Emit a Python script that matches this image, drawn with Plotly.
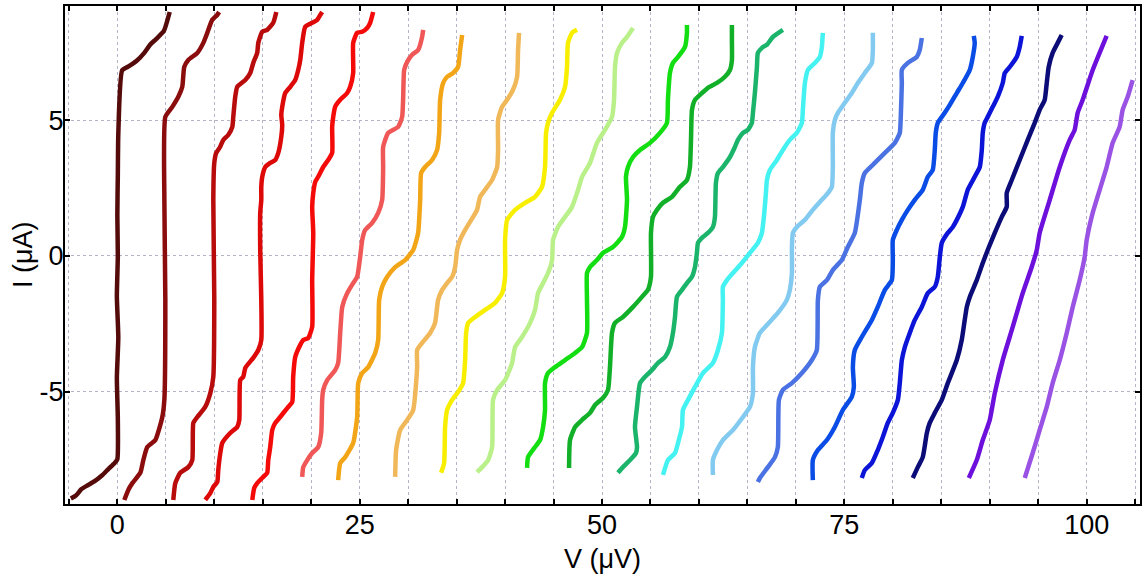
import plotly.graph_objects as go

# ---- data (V in microvolts, I in microamps) ----
V1 = [-4.8, -4.3, -3.7, -3.0, -2.3, -1.6, -0.9, -0.3, 0.0, 0.05, -0.05, 0.1, -0.05, 0.05, 0.0, 0.05, 0.1, 0.5, 1.2, 2.0, 2.8, 3.4, 4.0, 4.8, 5.4]
I1 = [-8.95, -8.85, -8.6, -8.45, -8.3, -8.1, -7.85, -7.65, -7.5, -6.0, -4.5, -3.0, -1.5, 0.0, 1.5, 3.0, 4.5, 6.85, 7.0, 7.2, 7.5, 7.8, 8.0, 8.3, 9.0]

V2 = [0.72, 1.13, 1.55, 2.37, 2.68, 3.09, 3.92, 4.64, 4.85, 4.95, 4.85, 4.95, 5.67, 6.29, 6.7, 6.9, 7.32, 8.25, 8.87, 9.28, 9.79, 10.3, 10.5]
I2 = [-9.0, -8.63, -8.38, -8.0, -7.53, -7.05, -6.79, -5.94, -5.3, -1.6, 2.07, 5.13, 5.5, 5.87, 6.24, 6.97, 7.23, 7.49, 7.86, 8.23, 8.71, 8.89, 9.0]

V3 = [5.77, 5.98, 6.49, 7.32, 7.73, 7.84, 8.25, 9.07, 9.59, 9.9, 10.0, 9.9, 10.0, 10.2, 10.6, 10.93, 11.44, 11.86, 11.96, 12.16, 12.37, 13.2, 13.71, 14.02, 14.43, 14.54, 14.95, 15.46, 16.08, 16.4]
I3 = [-9.0, -8.38, -8.0, -7.79, -7.53, -6.16, -5.94, -5.57, -5.06, -4.46, -1.62, 2.07, 3.43, 3.8, 4.02, 4.28, 4.46, 4.76, 5.13, 5.87, 6.24, 6.49, 6.75, 7.12, 7.49, 7.86, 8.27, 8.34, 8.6, 9.0]

V4 = [9.07, 9.59, 9.9, 10.31, 10.41, 10.62, 10.82, 11.65, 12.37, 12.58, 12.68, 12.99, 13.2, 14.02, 14.54, 14.85, 14.85, 14.74, 14.74, 14.85, 14.85, 14.95, 15.26, 15.77, 16.29, 16.6, 16.91, 17.01, 16.91, 17.01, 17.32, 17.84, 18.35, 18.66, 18.87, 19.07, 19.38, 20.1, 20.62, 20.93, 21.13]
I4 = [-9.0, -8.75, -8.52, -8.34, -7.9, -7.27, -6.9, -6.53, -6.31, -6.05, -4.58, -4.46, -4.13, -3.76, -3.47, -3.1, -1.62, 0.22, 1.59, 2.07, 2.55, 2.92, 3.28, 3.43, 3.54, 3.8, 4.39, 4.83, 5.2, 5.5, 6.01, 6.24, 6.49, 6.86, 7.23, 7.86, 8.45, 8.6, 8.71, 8.89, 9.0]

V5 = [13.92, 14.12, 14.43, 15.05, 15.46, 15.57, 15.77, 15.98, 16.29, 16.8, 17.53, 18.04, 18.14, 18.35, 18.87, 19.18, 19.69, 20.1, 20.1, 20.21, 20.1, 20.21, 20.41, 20.72, 21.24, 21.75, 22.16, 22.16, 22.27, 22.47, 22.99, 23.71, 24.02, 24.33, 24.33, 24.74, 25.26, 25.77, 26.08, 26.39]
I5 = [-9.0, -8.56, -8.38, -8.15, -8.0, -7.53, -7.05, -6.42, -6.16, -5.94, -5.61, -5.39, -4.46, -3.73, -3.28, -3.1, -3.03, -2.62, -0.89, 0.85, 1.81, 2.32, 2.73, 2.92, 3.28, 3.54, 3.8, 4.76, 5.13, 5.5, 5.76, 6.01, 6.24, 6.75, 7.86, 8.23, 8.27, 8.41, 8.6, 9.0]

V6 = [19.07, 19.18, 19.59, 20.1, 20.72, 21.03, 21.13, 21.24, 21.65, 22.47, 22.78, 22.99, 23.2, 23.71, 24.33, 24.74, 25.05, 25.26, 25.57, 26.29, 26.91, 27.32, 27.42, 27.42, 27.94, 28.97, 29.38, 29.48, 29.59, 29.9, 30.41, 31.03, 31.44, 31.55]
I6 = [-8.15, -7.79, -7.53, -7.27, -7.05, -6.53, -5.31, -4.94, -4.58, -4.21, -3.95, -2.84, -1.88, -1.37, -1.0, -0.77, -0.04, 0.59, 0.96, 1.22, 1.59, 2.07, 3.28, 4.02, 4.54, 4.76, 5.13, 5.76, 6.86, 7.16, 7.42, 7.6, 8.08, 8.34]

V7 = [22.78, 22.99, 23.51, 24.33, 24.74, 24.85, 25.26, 25.88, 26.6, 26.91, 27.01, 27.32, 27.84, 28.66, 29.69, 30.52, 31.03, 31.24, 31.34, 31.75, 32.47, 32.99, 33.2, 33.3, 33.61, 34.02, 34.64, 35.15, 35.36, 35.57]
I7 = [-8.27, -7.64, -7.42, -6.9, -5.94, -4.69, -4.32, -4.1, -3.58, -3.1, -1.62, -1.14, -0.77, -0.41, -0.15, 0.22, 0.85, 2.07, 3.06, 3.28, 3.54, 3.91, 4.54, 5.76, 6.38, 6.61, 6.75, 6.97, 7.6, 8.15]

V8 = [28.66, 28.76, 29.18, 29.9, 30.52, 30.93, 30.93, 31.44, 32.27, 32.78, 33.09, 33.51, 34.02, 34.54, 34.85, 35.05, 35.36, 35.88, 36.7, 37.11, 37.42, 37.94, 38.66, 39.18, 39.28, 39.28, 39.69, 40.21, 40.82, 41.24, 41.34, 41.44]
I8 = [-8.15, -7.16, -6.42, -6.05, -5.68, -4.1, -3.47, -3.21, -2.84, -2.47, -1.62, -1.25, -1.0, -0.77, -0.41, 0.22, 0.59, 0.96, 1.44, 1.7, 2.18, 2.44, 2.8, 3.28, 3.91, 5.02, 5.5, 5.76, 6.13, 6.61, 7.6, 8.23]

V9 = [33.4, 33.71, 33.81, 34.02, 34.54, 35.15, 35.67, 35.88, 35.98, 36.19, 36.91, 37.94, 38.97, 39.69, 40.0, 40.0, 40.21, 41.03, 42.06, 43.09, 43.81, 44.12, 44.23, 44.43, 44.85, 45.67, 46.19, 46.39, 46.49, 46.91, 47.42]
I9 = [-8.0, -7.64, -6.31, -5.68, -5.31, -5.02, -4.69, -3.84, -2.84, -2.47, -2.25, -1.99, -1.73, -1.37, -0.77, 0.59, 1.33, 1.7, 1.96, 2.18, 2.55, 3.28, 4.54, 4.91, 5.28, 5.76, 6.24, 6.97, 7.86, 8.23, 8.34]

V10 = [37.11, 37.63, 38.25, 38.66, 38.76, 39.18, 40.0, 40.72, 41.03, 41.75, 42.58, 43.09, 43.4, 43.92, 44.43, 44.85, 44.95, 45.46, 46.19, 46.91, 47.53, 47.94, 48.76, 49.48, 50.31, 51.03, 51.24, 51.34, 51.55, 52.06, 52.58, 53.2]
I10 = [-7.97, -7.79, -7.53, -7.05, -5.31, -4.94, -4.58, -3.95, -3.36, -2.99, -2.47, -1.99, -1.37, -1.0, -0.63, -0.15, 0.59, 1.07, 1.44, 1.81, 2.44, 2.92, 3.43, 4.17, 4.65, 5.13, 5.76, 6.97, 7.49, 7.86, 8.08, 8.41]

V11 = [42.27, 42.37, 43.09, 43.61, 43.92, 44.12, 44.12, 44.43, 45.15, 46.19, 47.22, 47.94, 48.45, 48.45, 48.45, 48.76, 49.48, 50.1, 51.13, 52.06, 52.37, 52.58, 52.47, 52.68, 53.2, 53.92, 54.95, 55.98, 56.7, 56.8, 57.01, 57.32, 57.84, 58.56, 58.76, 58.76]
I11 = [-7.82, -7.42, -7.05, -6.79, -6.31, -5.68, -4.69, -4.32, -4.1, -3.84, -3.58, -3.36, -2.84, -1.62, -0.63, -0.41, -0.15, 0.11, 0.33, 0.7, 1.07, 2.07, 2.92, 3.28, 3.65, 3.91, 4.17, 4.54, 4.91, 5.76, 6.75, 7.12, 7.34, 7.71, 8.23, 8.52]

V12 = [46.6, 46.7, 47.22, 47.94, 48.76, 49.28, 50.1, 50.62, 50.82, 51.03, 51.34, 52.16, 53.2, 54.12, 54.74, 55.05, 55.05, 55.26, 55.67, 56.29, 57.22, 58.04, 58.76, 59.07, 59.18, 59.28, 59.59, 60.31, 60.93, 61.86, 62.68, 63.2, 63.4, 63.4, 63.4]
I12 = [-7.82, -6.79, -6.31, -6.05, -5.79, -5.5, -5.24, -4.94, -4.1, -2.84, -2.47, -2.25, -1.88, -1.51, -1.25, -0.77, 0.85, 1.44, 1.7, 1.96, 2.18, 2.55, 2.8, 3.28, 4.28, 5.39, 5.76, 6.01, 6.2, 6.38, 6.61, 6.86, 7.23, 7.97, 8.52]

V13 = [51.65, 52.16, 52.89, 53.51, 53.61, 53.4, 53.61, 53.92, 54.43, 55.15, 55.77, 56.49, 57.01, 57.32, 57.53, 57.73, 58.25, 58.76, 59.28, 59.59, 59.79, 59.9, 60.41, 60.93, 61.44, 61.65, 61.75, 61.96, 62.47, 63.2, 63.71, 64.02, 64.54, 65.05, 65.46, 65.57, 65.77, 65.98, 66.08, 66.6, 67.01, 67.63, 68.66]
I13 = [-8.0, -7.79, -7.53, -7.27, -7.05, -6.31, -5.57, -4.69, -4.46, -4.21, -3.95, -3.73, -3.36, -2.84, -2.25, -1.51, -1.25, -1.0, -0.77, -0.41, 0.11, 0.48, 0.7, 0.85, 1.07, 1.44, 2.69, 3.06, 3.28, 3.65, 4.02, 4.28, 4.54, 4.65, 4.91, 5.28, 6.01, 6.97, 7.49, 7.71, 7.79, 8.08, 8.34]

V14 = [56.29, 56.8, 57.53, 57.84, 58.25, 58.35, 58.87, 59.59, 60.41, 61.44, 61.96, 62.37, 62.47, 62.47, 62.89, 63.51, 64.43, 65.26, 66.08, 66.49, 66.7, 66.91, 67.01, 67.32, 68.04, 68.66, 69.38, 70.1, 70.62, 70.72, 70.93, 71.24, 71.96, 72.47, 72.68, 72.78]
I14 = [-8.08, -7.53, -7.27, -6.9, -6.31, -5.68, -5.31, -4.83, -4.32, -3.95, -3.47, -2.84, -1.62, -1.14, -0.89, -0.63, -0.26, 0.11, 0.48, 0.85, 1.44, 2.32, 2.8, 3.17, 3.54, 3.91, 4.28, 4.54, 4.91, 5.39, 6.38, 6.86, 7.12, 7.34, 7.71, 8.23]

V15 = [61.44, 61.44, 61.86, 62.47, 63.51, 64.54, 65.26, 65.57, 65.57, 65.77, 66.29, 67.01, 68.14, 69.07, 69.38, 69.59, 69.59, 69.69, 70.1, 70.93, 71.75, 72.68, 73.3, 73.71, 73.81, 73.81, 74.02, 74.33, 75.05, 75.77, 76.39, 77.11, 77.84, 77.94, 77.94]
I15 = [-8.08, -7.53, -7.16, -6.79, -6.42, -5.94, -5.57, -5.06, -4.1, -3.36, -2.84, -2.55, -2.1, -1.62, -1.25, -0.63, 0.33, 0.85, 1.07, 1.33, 1.7, 2.07, 2.32, 2.55, 3.28, 4.54, 5.02, 5.28, 5.65, 6.01, 6.38, 6.75, 7.12, 7.6, 8.23]

V16 = [66.08, 66.29, 67.11, 67.84, 68.14, 68.25, 68.66, 69.59, 70.62, 71.65, 72.16, 72.27, 72.47, 73.2, 73.81, 74.74, 75.36, 76.08, 76.6, 76.8, 77.11, 78.14, 79.18, 80.21, 80.72, 80.82, 80.93, 80.93, 81.55, 82.47, 82.78, 82.99]
I16 = [-8.34, -8.19, -7.79, -7.42, -7.05, -5.31, -4.94, -4.69, -4.32, -3.84, -3.47, -1.62, -1.14, -0.89, -0.52, -0.15, 0.33, 0.85, 2.07, 2.69, 3.06, 3.43, 3.8, 4.17, 4.54, 5.13, 6.38, 6.86, 7.12, 7.34, 7.6, 8.04]

V17 = [71.75, 71.75, 72.27, 73.2, 74.02, 74.85, 75.77, 75.98, 75.88, 76.08, 76.8, 77.84, 78.45, 79.18, 79.9, 80.0, 80.0, 80.41, 80.93, 81.55, 82.27, 83.09, 83.61, 84.12, 84.33, 84.43, 84.64, 85.36, 85.88, 86.6, 87.22, 87.94, 88.25, 88.45, 88.35]
I17 = [-8.27, -7.53, -7.16, -6.79, -6.31, -5.68, -5.2, -4.83, -4.1, -3.47, -2.99, -2.36, -1.88, -1.25, -0.89, -0.15, 0.59, 0.96, 1.33, 1.7, 2.07, 2.44, 2.92, 3.17, 3.91, 4.54, 4.91, 5.28, 5.57, 6.01, 6.38, 6.86, 7.34, 7.86, 8.12]

V18 = [76.8, 77.11, 77.84, 78.45, 78.97, 79.48, 80.0, 80.52, 80.72, 80.93, 81.24, 81.75, 82.27, 82.99, 83.61, 84.33, 84.64, 84.85, 85.05, 85.67, 86.19, 86.6, 87.22, 87.73, 88.45, 88.97, 89.18, 89.28, 89.48, 89.79, 90.31, 90.82, 91.34, 91.55, 92.06, 92.78, 93.09, 93.3]
I18 = [-8.19, -7.9, -7.64, -7.16, -6.68, -6.16, -5.79, -5.31, -4.69, -3.84, -3.36, -2.84, -2.36, -1.88, -1.37, -1.14, -0.77, -0.04, 0.48, 0.85, 1.07, 1.33, 1.81, 2.44, 2.92, 3.28, 3.91, 4.54, 4.91, 5.13, 5.5, 5.87, 6.38, 6.75, 6.97, 7.34, 7.71, 8.12]

V19 = [82.06, 82.58, 83.09, 83.51, 83.81, 84.33, 85.05, 85.67, 86.6, 87.11, 87.42, 87.63, 87.94, 88.66, 89.28, 89.79, 90.52, 91.24, 91.75, 91.75, 92.27, 93.09, 93.92, 94.64, 95.15, 95.67, 95.88, 96.08, 96.49, 97.01, 97.42]
I19 = [-8.19, -7.79, -7.42, -6.53, -6.16, -5.79, -5.31, -4.69, -3.84, -3.1, -2.36, -1.88, -1.51, -0.89, -0.26, 0.22, 0.85, 1.44, 1.81, 2.32, 2.8, 3.54, 4.28, 4.91, 5.39, 5.76, 6.38, 6.97, 7.49, 7.86, 8.15]

V20 = [87.84, 88.66, 89.28, 90.0, 90.52, 91.34, 92.37, 93.4, 94.33, 94.85, 95.15, 96.19, 97.22, 98.25, 98.76, 99.07, 99.59, 100.62, 102.06]
I20 = [-8.19, -7.53, -6.79, -6.05, -5.06, -3.84, -2.62, -1.37, -0.41, 0.22, 0.85, 2.07, 3.28, 4.28, 4.65, 5.28, 5.76, 6.86, 8.12]

V21 = [93.61, 94.43, 95.15, 95.88, 96.49, 97.22, 97.94, 98.56, 99.28, 99.79, 100.0, 100.62, 101.34, 102.06, 102.68, 103.4, 103.71, 104.23, 104.74]
I21 = [-8.19, -7.27, -6.42, -5.57, -4.69, -3.84, -2.84, -1.88, -0.89, -0.04, 0.59, 1.59, 2.44, 3.28, 4.17, 4.76, 5.39, 5.87, 6.49]

COLORS = ["#560b0b", "#8a0c0c", "#b80b0b", "#dd0808", "#f50a0a", "#f05858", "#f2a516",
          "#f0b858", "#f8ef00", "#baf08a", "#12de12", "#12b028", "#1ab46a", "#44f2f2",
          "#82caf0", "#4a72e2", "#0a4ce6", "#0c14d8", "#0c0c78", "#6e10dc", "#9a52e4"]

V_ALL = [V1, V2, V3, V4, V5, V6, V7, V8, V9, V10, V11, V12, V13, V14, V15, V16, V17, V18, V19, V20, V21]
I_ALL = [I1, I2, I3, I4, I5, I6, I7, I8, I9, I10, I11, I12, I13, I14, I15, I16, I17, I18, I19, I20, I21]

X_TICKS = list(range(-5, 106, 5))
X_LABELS = [str(t) if t % 25 == 0 and t >= 0 else "" for t in X_TICKS]
Y_TICKS = [-5, 0, 5]
Y_LABELS = ["-5", "0", "5"]
X_TITLE = "V (μV)"
Y_TITLE = "I (μA)"

fig = go.Figure()
for v, i, c in zip(V_ALL, I_ALL, COLORS):
    fig.add_trace(go.Scatter(x=v, y=i, mode="lines",
                             line=dict(color=c, width=4.5, shape="spline", smoothing=0.5),
                             showlegend=False, hoverinfo="skip"))

FONT = "Liberation Sans, Arial, Helvetica, sans-serif"
axis_style = dict(showgrid=True, gridcolor="#b4b4c6", griddash="dot", gridwidth=1,
                  zeroline=False, showline=True, linecolor="black", linewidth=2,
                  mirror="allticks", ticks="inside", ticklen=5, tickwidth=1.5,
                  tickcolor="black", automargin=False,
                  tickfont=dict(family=FONT, size=27, color="black"))

fig.update_layout(
    width=1144, height=574,
    margin=dict(l=65, r=4, t=6, b=70),
    paper_bgcolor="white", plot_bgcolor="white",
    font=dict(family=FONT, size=27, color="black"),
    xaxis=dict(range=[-5.4, 105.5], tickmode="array", tickvals=X_TICKS, ticktext=X_LABELS,
               ticklabelstandoff=-4, **axis_style),
    yaxis=dict(range=[-9.15, 9.22], tickmode="array", tickvals=Y_TICKS, ticktext=Y_LABELS,
               ticklabelstandoff=-6, **axis_style),
    annotations=[
        dict(text=X_TITLE, xref="paper", yref="paper", x=0.5, y=0, xanchor="center",
             yanchor="middle", yshift=-55, showarrow=False,
             font=dict(family=FONT, size=27, color="black")),
        dict(text=Y_TITLE, xref="paper", yref="paper", x=0, y=0.5, xanchor="center",
             yanchor="middle", xshift=-42, textangle=-90, showarrow=False,
             font=dict(family=FONT, size=27, color="black")),
    ],
)

fig.write_html("out.html", config={"displayModeBar": False},
               post_script="document.body.style.margin='0';document.body.style.overflow='hidden';")
